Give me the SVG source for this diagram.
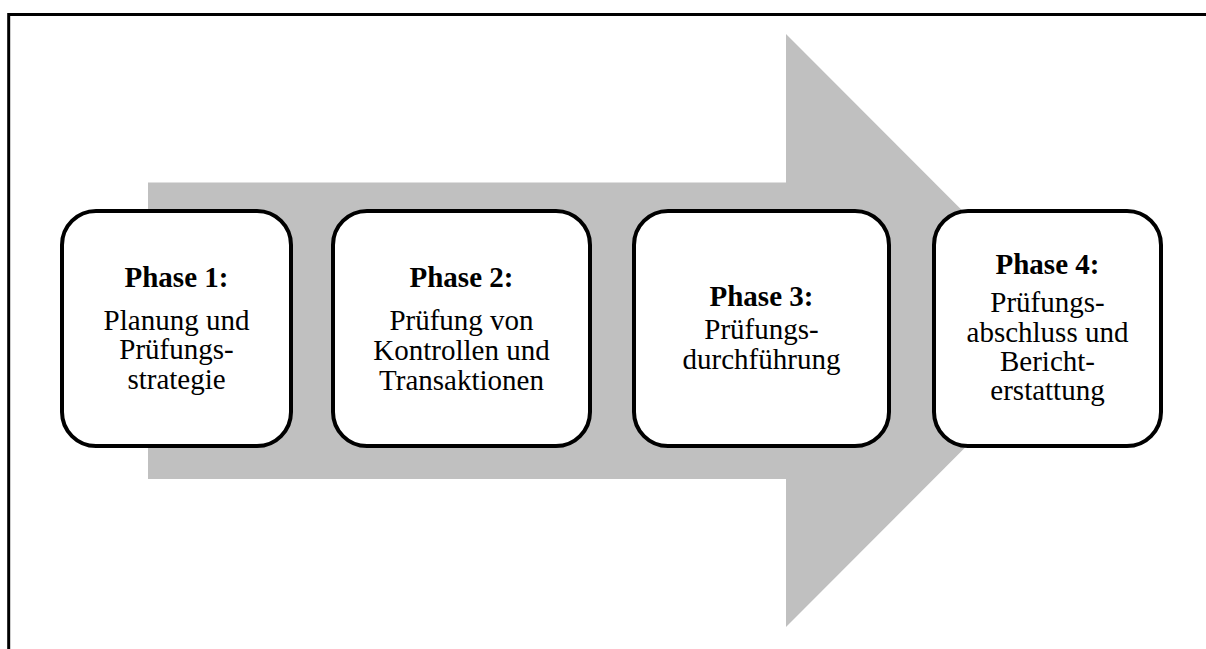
<svg xmlns="http://www.w3.org/2000/svg" width="1206" height="649" viewBox="0 0 1206 649">
  <style>
    .box { fill: #ffffff; stroke: #000000; stroke-width: 4; }
    .t { font-family: "Liberation Serif", "Times New Roman", serif; font-size: 29px; fill: #000000; text-anchor: middle; }
    .b { font-weight: bold; }
  </style>
  <rect x="0" y="0" width="1206" height="649" fill="#ffffff"/>
  <!-- frame: top and left edges only -->
  <path d="M8.7,649 V14.5 H1206" fill="none" stroke="#000000" stroke-width="3"/>

  <!-- big process arrow behind the phases -->
  <g id="connectors">
    <polygon points="148,182.5 786,182.5 786,34 1082,330.5 786,627 786,479 148,479" fill="#c0c0c0"/>
  </g>

  <g id="phase1">
    <rect class="box" x="62" y="211" width="229" height="235" rx="34" ry="34"/>
    <text class="t b" x="176.5" y="287">Phase 1:</text>
    <text class="t" x="176.5" y="330">Planung und</text>
    <text class="t" x="176.5" y="359">Prüfungs-</text>
    <text class="t" x="176.5" y="389">strategie</text>
  </g>

  <g id="phase2">
    <rect class="box" x="333" y="211" width="257" height="235" rx="34" ry="34"/>
    <text class="t b" x="461.5" y="287">Phase 2:</text>
    <text class="t" x="461.5" y="330">Prüfung von</text>
    <text class="t" x="461.5" y="360">Kontrollen und</text>
    <text class="t" x="461.5" y="390">Transaktionen</text>
  </g>

  <g id="phase3">
    <rect class="box" x="634" y="211" width="255" height="235" rx="34" ry="34"/>
    <text class="t b" x="761.5" y="306">Phase 3:</text>
    <text class="t" x="761.5" y="339">Prüfungs-</text>
    <text class="t" x="761.5" y="369">durchführung</text>
  </g>

  <g id="phase4">
    <rect class="box" x="934" y="211" width="227" height="235" rx="34" ry="34"/>
    <text class="t b" x="1047.5" y="274">Phase 4:</text>
    <text class="t" x="1047.5" y="312">Prüfungs-</text>
    <text class="t" x="1047.5" y="342">abschluss und</text>
    <text class="t" x="1047.5" y="371">Bericht-</text>
    <text class="t" x="1047.5" y="400">erstattung</text>
  </g>
</svg>
